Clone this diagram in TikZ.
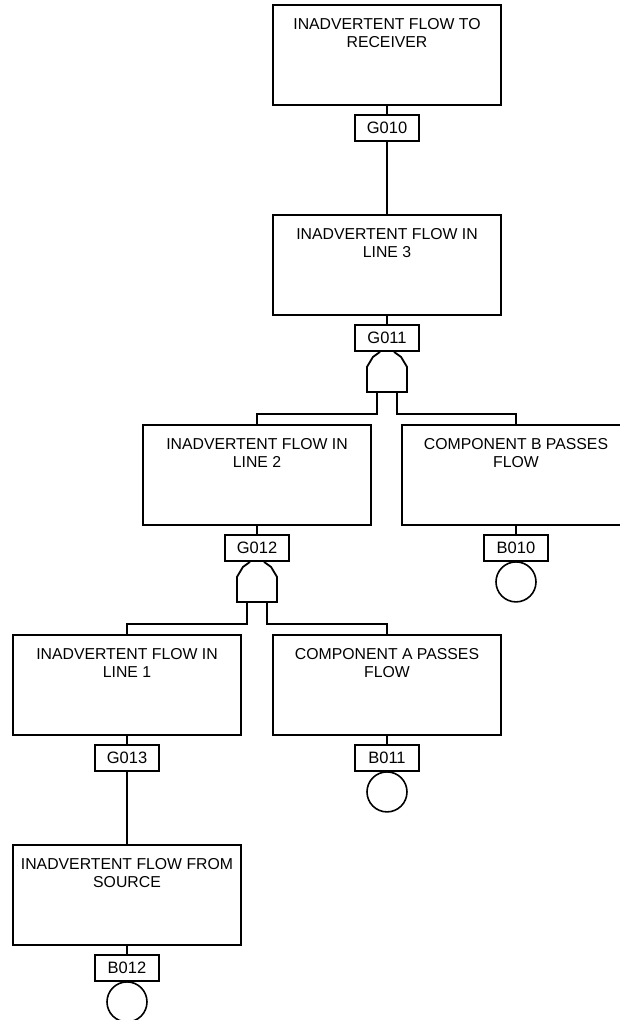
\documentclass[tikz,border=0pt]{standalone}
\usepackage{fontspec}
\setmainfont{Liberation Sans}
\usetikzlibrary{calc}
\begin{document}
\begin{tikzpicture}[x=1pt,y=-1pt,
 evbox/.style={draw,line width=1.8pt,minimum width=228pt,minimum height=100pt,inner sep=0pt},
 evtext/.style={align=center,inner sep=0pt,anchor=north,font=\fontsize{15.8}{18}\selectfont},
 tag/.style={draw,fill=white,line width=1.8pt,minimum width=64pt,minimum height=26pt,inner sep=0pt,font=\fontsize{16.5}{18}\selectfont},
 basic/.style={draw,circle,line width=1.6pt,minimum size=40pt,inner sep=0pt},
 conn/.style={line width=1.4pt},
 gatestyle/.style={line width=1.8pt,line join=miter}]
\useasboundingbox (0,0) rectangle (620,1020);
\clip (0,0) rectangle (620,1020);
% events
\node[evbox] (e1) at (387,55) {};
\node[evtext] (e1t) at ([yshift=-14.4pt]e1.north) {INADVERTENT FLOW TO\\RECEIVER};
\node[evbox] (e2) at (387,265) {};
\node[evtext] (e2t) at ([yshift=-14.4pt]e2.north) {INADVERTENT FLOW IN\\LINE 3};
\node[evbox] (e3) at (257,475) {};
\node[evtext] (e3t) at ([yshift=-14.4pt]e3.north) {INADVERTENT FLOW IN\\LINE 2};
\node[evbox] (e4) at (516,475) {};
\node[evtext] (e4t) at ([yshift=-14.4pt]e4.north) {COMPONENT B PASSES\\FLOW};
\node[evbox] (e5) at (127,685) {};
\node[evtext] (e5t) at ([yshift=-14.4pt]e5.north) {INADVERTENT FLOW IN\\LINE 1};
\node[evbox] (e6) at (387,685) {};
\node[evtext] (e6t) at ([yshift=-14.4pt]e6.north) {COMPONENT A PASSES\\FLOW};
\node[evbox] (e7) at (127,895) {};
\node[evtext] (e7t) at ([yshift=-14.4pt]e7.north) {INADVERTENT FLOW FROM\\SOURCE};
% tags
\node[tag] (g010) at (387,128) {G010};
\node[tag] (g011) at (387,338) {G011};
\node[tag] (g012) at (257,548) {G012};
\node[tag] (b010) at (516,548) {B010};
\node[tag] (g013) at (127,758) {G013};
\node[tag] (b011) at (387,758) {B011};
\node[tag] (b012) at (127,968) {B012};
% basic events
\node[basic] (c010) at ($(b010.south)+(0,20)$) {};
\node[basic] (c011) at ($(b011.south)+(0,20)$) {};
\node[basic] (c012) at ($(b012.south)+(0,20)$) {};
% connectors
\draw[conn] (e1.south) -- (g010.north);
\draw[conn] (g010.south) -- (e2.north);
\draw[conn] (e2.south) -- (g011.north);
\draw[conn] (e3.south) -- (g012.north);
\draw[conn] (e4.south) -- (b010.north);
\draw[conn] (e5.south) -- (g013.north);
\draw[conn] (g013.south) -- (e7.north);
\draw[conn] (e6.south) -- (b011.north);
\draw[conn] (e7.south) -- (b012.north);
% AND gates
\coordinate (a1) at (g011.south);
\coordinate (a2) at (g012.south);
\foreach \g in {a1,a2}{
  \draw[gatestyle] ($(\g)+(-7,0)$) -- ++(-7,5) -- ++(-6,10) -- ++(0,25) -- ++(40,0) -- ++(0,-25) -- ++(-6,-10) -- ++(-7,-5);
}
\draw[gatestyle] ($(a1)+(-10,40)$) -- ++(0,22) -| (e3.north);
\draw[gatestyle] ($(a1)+(10,40)$) -- ++(0,22) -| (e4.north);
\draw[gatestyle] ($(a2)+(-10,40)$) -- ++(0,22) -| (e5.north);
\draw[gatestyle] ($(a2)+(10,40)$) -- ++(0,22) -| (e6.north);
\end{tikzpicture}
\end{document}
